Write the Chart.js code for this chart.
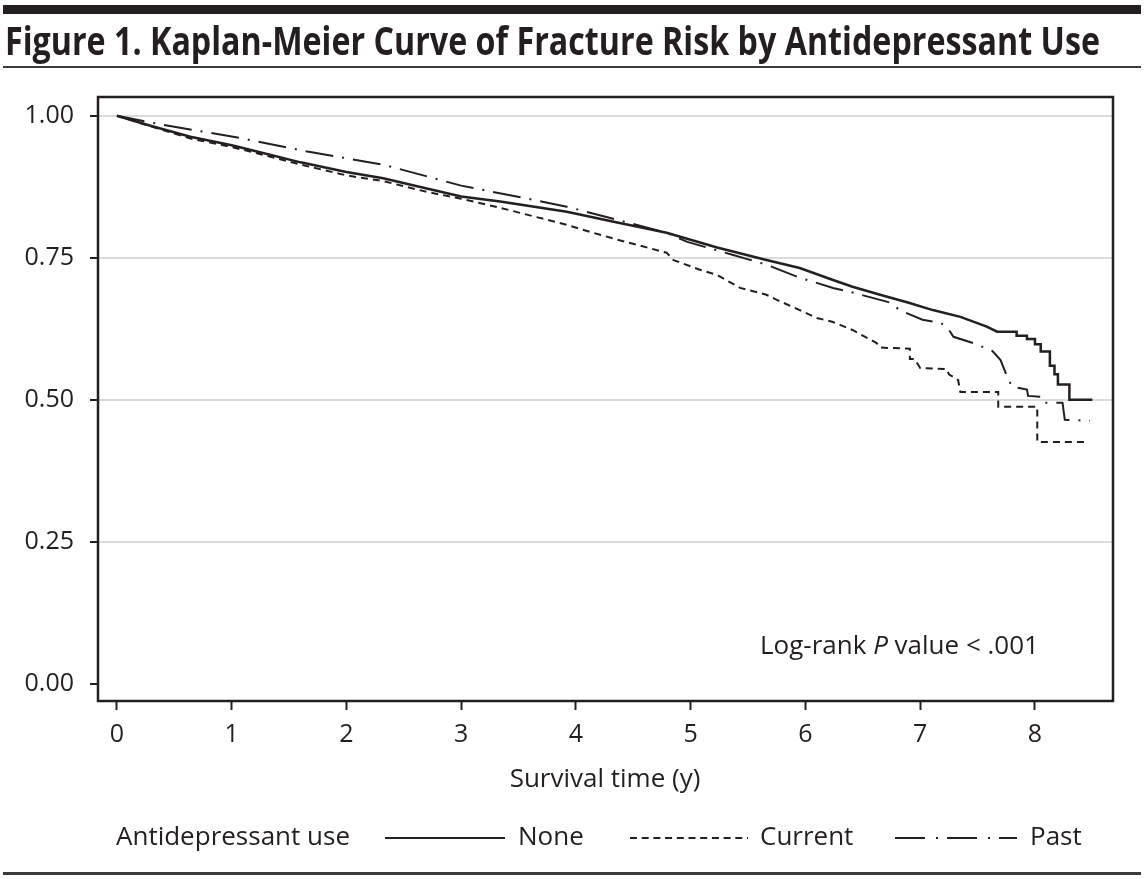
<!DOCTYPE html>
<html>
<head>
<meta charset="utf-8">
<script src="https://cdn.jsdelivr.net/npm/chart.js@4"></script>
<style>
  html, body { margin: 0; padding: 0; background: #fff; }
  #wrap { width: 1144px; height: 879px; position: relative; }
  canvas { display: block; }
</style>
</head>
<body>
<div id="wrap"><canvas id="km" width="1144" height="879"></canvas></div>
<script>
// Tiempos (años) y supervivencia
var timesNone = [0, 0.30, 0.64, 1.00, 1.22, 1.60, 2.00, 2.32, 2.70, 3.00, 3.34, 3.92, 4.36, 4.79, 5.23, 5.66, 5.95, 6.24, 6.41, 6.65, 6.90, 7.11, 7.35, 7.58, 7.67, 7.84, 7.84, 7.93, 7.93, 8.00, 8.00, 8.05, 8.05, 8.13, 8.13, 8.17, 8.17, 8.20, 8.20, 8.30, 8.30, 8.50];
var survNone  = [1.000, 0.982, 0.963, 0.948, 0.937, 0.918, 0.901, 0.890, 0.872, 0.858, 0.849, 0.831, 0.812, 0.794, 0.768, 0.746, 0.732, 0.711, 0.699, 0.685, 0.671, 0.658, 0.646, 0.629, 0.620, 0.620, 0.613, 0.613, 0.607, 0.607, 0.598, 0.598, 0.585, 0.585, 0.560, 0.560, 0.545, 0.545, 0.527, 0.527, 0.500, 0.500];

var timesCurrent = [0, 0.30, 0.64, 1.00, 1.22, 1.60, 2.00, 2.32, 2.70, 3.00, 3.34, 3.92, 4.15, 4.36, 4.79, 4.85, 5.08, 5.23, 5.43, 5.66, 5.75, 5.95, 6.10, 6.24, 6.41, 6.62, 6.65, 6.91, 6.91, 6.95, 7.00, 7.23, 7.25, 7.33, 7.35, 7.68, 7.68, 8.02, 8.02, 8.44];
var survCurrent  = [1.000, 0.981, 0.960, 0.945, 0.934, 0.914, 0.895, 0.885, 0.866, 0.854, 0.838, 0.808, 0.794, 0.782, 0.759, 0.746, 0.729, 0.720, 0.697, 0.685, 0.676, 0.658, 0.644, 0.637, 0.623, 0.600, 0.592, 0.590, 0.572, 0.572, 0.556, 0.554, 0.545, 0.535, 0.514, 0.514, 0.488, 0.488, 0.426, 0.426];

var timesPast = [0, 0.35, 1.07, 1.66, 2.32, 3.00, 3.63, 3.92, 4.30, 4.79, 4.97, 5.37, 5.66, 5.95, 6.24, 6.39, 6.65, 6.74, 6.82, 7.02, 7.17, 7.23, 7.29, 7.46, 7.63, 7.70, 7.76, 7.80, 7.93, 7.94, 8.07, 8.09, 8.24, 8.26, 8.48];
var survPast  = [1.000, 0.986, 0.961, 0.937, 0.914, 0.877, 0.852, 0.840, 0.820, 0.794, 0.778, 0.755, 0.738, 0.715, 0.697, 0.690, 0.676, 0.671, 0.658, 0.641, 0.636, 0.629, 0.611, 0.600, 0.586, 0.570, 0.540, 0.523, 0.518, 0.507, 0.505, 0.495, 0.495, 0.465, 0.463];

var xTicks = [0, 1, 2, 3, 4, 5, 6, 7, 8];
var yTicks = [0, 0.25, 0.5, 0.75, 1];

var FONT = '"Open Sans", "Noto Sans", sans-serif';
var INK = '#231f20';

function puntos(ts, vs) {
    return ts.map(function (t, i) { return { x: t, y: vs[i] }; });
}

// Dibuja título, reglas, marco, anotación y leyenda
var marcoPlugin = {
    id: 'marco',
    beforeDraw: function (chart) {
        var ctx = chart.ctx;
        ctx.save();
        ctx.fillStyle = '#fff';
        ctx.fillRect(0, 0, chart.width, chart.height);

        // barra superior y reglas
        ctx.fillStyle = '#231f20';
        ctx.fillRect(3, 5, 1138, 9);
        ctx.fillStyle = '#3a3a3a';
        ctx.fillRect(3, 66, 1138, 2);
        ctx.fillRect(3, 872, 1138, 3);

        // título condensado para ajustarse al ancho
        ctx.font = 'bold 39px ' + FONT;
        var texto = 'Figure 1. Kaplan-Meier Curve of Fracture Risk by Antidepressant Use';
        var w = ctx.measureText(texto).width;
        ctx.translate(5, 55);
        ctx.scale(1095 / w, 1);
        ctx.fillStyle = INK;
        ctx.textBaseline = 'alphabetic';
        ctx.fillText(texto, 0, 0);
        ctx.restore();
    },
    afterDraw: function (chart) {
        var ctx = chart.ctx;
        var a = chart.chartArea;
        ctx.save();

        // marco del área
        ctx.strokeStyle = INK;
        ctx.lineWidth = 2.5;
        ctx.strokeRect(a.left, a.top, a.right - a.left, a.bottom - a.top);

        // título del eje x
        ctx.fillStyle = INK;
        ctx.font = '26px ' + FONT;
        ctx.textAlign = 'center';
        ctx.textBaseline = 'middle';
        ctx.fillText('Survival time (y)', 605, 780);

        // anotación log-rank
        ctx.textAlign = 'left';
        var partes = [['Log-rank ', ''], ['P', 'italic '], [' value < .001', '']];
        var x = 760;
        partes.forEach(function (p) {
            ctx.font = p[1] + '26px ' + FONT;
            ctx.fillText(p[0], x, 647);
            x += ctx.measureText(p[0]).width;
        });

        // leyenda
        var ly = 838;
        ctx.font = '26px ' + FONT;
        ctx.fillText('Antidepressant use', 116, ly);
        var items = [
            { x0: 385, x1: 505, tx: 518 },
            { x0: 630, x1: 748, tx: 760 },
            { x0: 895, x1: 1017, tx: 1030 }
        ];
        chart.data.datasets.forEach(function (ds, i) {
            var it = items[i];
            ctx.beginPath();
            ctx.setLineDash(ds.legendDash || []);
            ctx.lineWidth = 2;
            ctx.strokeStyle = INK;
            ctx.moveTo(it.x0, ly);
            ctx.lineTo(it.x1, ly);
            ctx.stroke();
            ctx.setLineDash([]);
            ctx.fillText(ds.label, it.tx, ly);
        });
        ctx.restore();
    }
};

var ctx = document.getElementById('km').getContext('2d');
var chart = new Chart(ctx, {
    type: 'line',
    data: {
        datasets: [{
            label: 'None',
            data: puntos(timesNone, survNone),
            borderColor: INK,
            borderWidth: 2.5,
            legendDash: []
        }, {
            label: 'Current',
            data: puntos(timesCurrent, survCurrent),
            borderColor: INK,
            borderWidth: 2,
            borderDash: [7, 5],
            legendDash: [7, 4.7]
        }, {
            label: 'Past',
            data: puntos(timesPast, survPast),
            borderColor: INK,
            borderWidth: 2,
            borderDash: [28, 9, 2, 9],
            legendDash: [30, 11, 2, 9]
        }]
    },
    options: {
        responsive: false,
        animation: false,
        devicePixelRatio: 1,
        elements: { point: { radius: 0 }, line: { tension: 0 } },
        layout: { padding: { top: 97, left: 0, right: 31, bottom: 98 } },
        plugins: { legend: { display: false }, tooltip: { enabled: false } },
        scales: {
            x: {
                type: 'linear',
                min: -0.165,
                max: 8.68,
                afterFit: function (s) { s.height = 80; },
                afterBuildTicks: function (s) { s.ticks = xTicks.map(function (v) { return { value: v }; }); },
                border: { display: false },
                grid: { drawOnChartArea: false, drawTicks: true, tickLength: 9, tickWidth: 2, tickColor: INK },
                ticks: { color: INK, font: { family: FONT, size: 25 }, padding: 10, maxRotation: 0 }
            },
            y: {
                type: 'linear',
                min: -0.03,
                max: 1.033,
                afterFit: function (s) { s.width = 98; },
                afterBuildTicks: function (s) { s.ticks = yTicks.map(function (v) { return { value: v }; }); },
                border: { display: false },
                grid: {
                    color: function (c) { return c.tick && c.tick.value === 0 ? 'rgba(0,0,0,0)' : '#dcdcdc'; },
                    lineWidth: 2,
                    drawTicks: true, tickLength: 8, tickWidth: 2, tickColor: INK
                },
                ticks: {
                    color: INK, font: { family: FONT, size: 25 }, padding: 16,
                    callback: function (v) { return v.toFixed(2); }
                }
            }
        }
    },
    plugins: [marcoPlugin]
});
</script>
</body>
</html>
